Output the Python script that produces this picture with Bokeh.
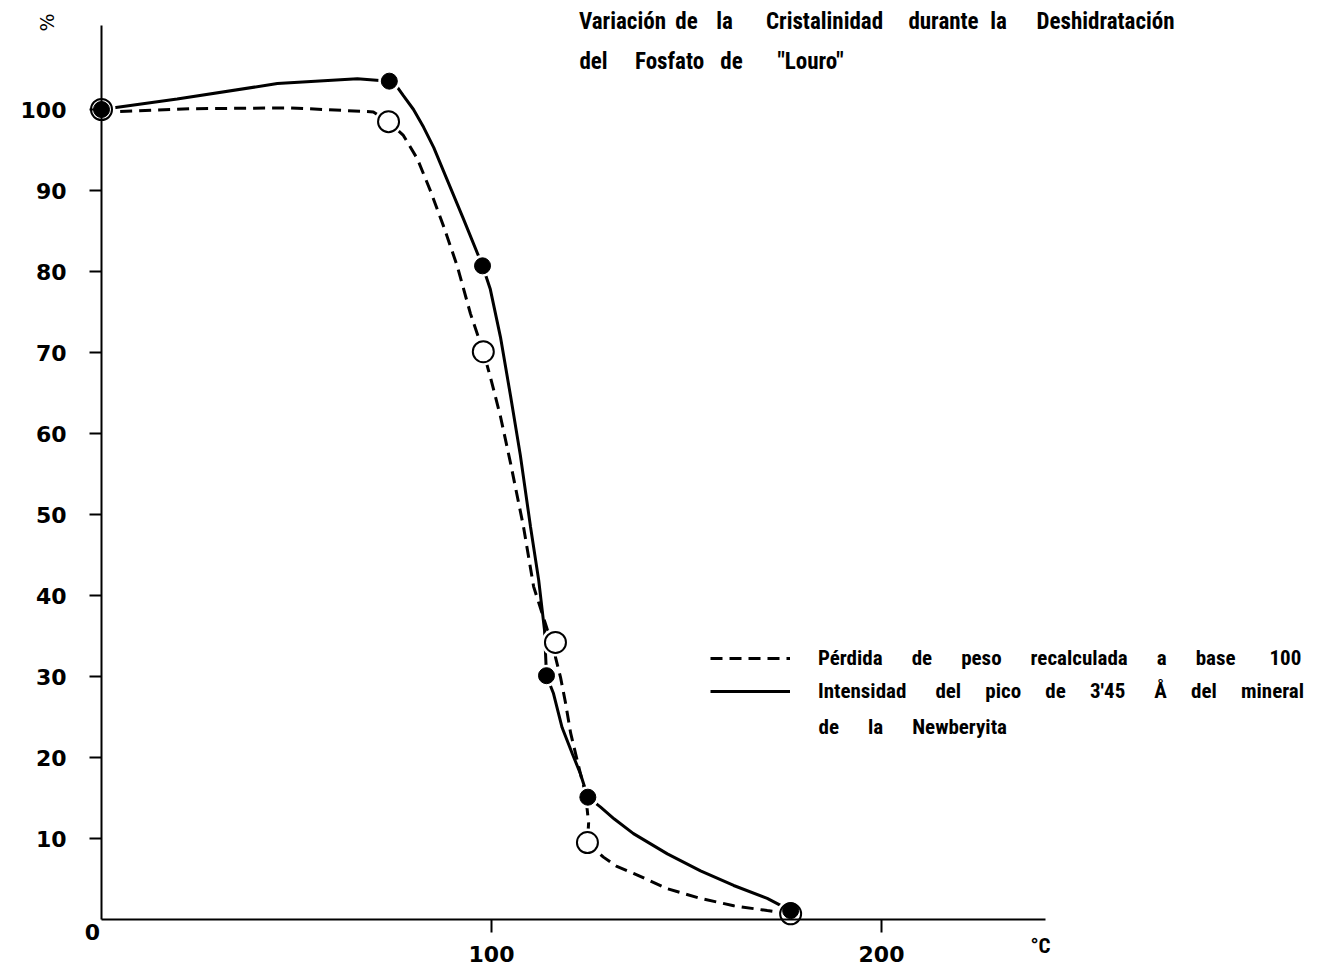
from bokeh.plotting import figure
from bokeh.models import Label, Legend, LegendItem, FixedTicker
from bokeh.embed import file_html
from bokeh.resources import INLINE

# ---------------- data ----------------
# measured points: Intensidad del pico de 3'45 A (filled) and Perdida de peso (open)
temp_intensidad = [0, 73.8, 97.7, 114.1, 124.7, 176.7]
intensidad = [100, 103.5, 80.7, 30.1, 15.1, 1.1]
temp_perdida = [0, 73.6, 97.9, 116.4, 124.6, 176.7]
perdida = [100, 98.5, 70.1, 34.2, 9.5, 0.7]

# hand-drawn curves
intensidad_curve_x = [0, 19.4, 45.1, 65.6, 73.8, 75.8, 77.4, 80.0, 82.6, 85.2, 87.7, 92.8, 97.7,
                      99.7, 102.3, 104.9, 107.4, 110.0, 112.1, 113.6, 114.1, 115.9, 118.1, 120.7,
                      122.8, 124.7, 127.9, 131.5, 136.4, 145.1, 153.6, 162.1, 170.7, 176.7]
intensidad_curve_y = [100.0, 101.3, 103.2, 103.8, 103.5, 102.8, 101.7, 100.0, 97.8, 95.3, 92.4,
                      86.5, 80.7, 77.8, 71.9, 64.6, 57.3, 48.5, 41.9, 35.7, 30.1, 27.9, 23.7,
                      20.5, 18.0, 15.1, 13.9, 12.4, 10.6, 8.1, 6.0, 4.2, 2.6, 1.1]
perdida_curve_x = [0, 2.3, 22.8, 48.5, 69.7, 73.6, 77.4, 81.0, 84.4, 87.7, 91.2, 94.6, 97.9,
                   99.7, 102.3, 104.9, 108.2, 110.8, 114.3, 116.4, 116.4, 117.7, 119.0, 120.3,
                   122.8, 124.1, 124.9, 124.6, 128.7, 132.0, 136.4, 145.1, 153.6, 162.1, 170.7,
                   176.7]
perdida_curve_y = [100.0, 99.7, 100.1, 100.2, 99.7, 98.5, 96.8, 93.9, 89.9, 85.6, 80.7, 74.8, 70.1,
                   67.0, 62.1, 56.3, 48.5, 41.1, 35.8, 34.2, 32.4, 29.9, 26.7, 23.0,
                   18.0, 15.6, 11.9, 9.5, 7.7, 6.6, 5.7, 3.8, 2.6, 1.7, 1.1, 0.7]

y_ticks = [10, 20, 30, 40, 50, 60, 70, 80, 90, 100]
x_ticks = [100, 200]

title_line1 = ["Variación", "de", "la", "Cristalinidad", "durante", "la", "Deshidratación"]
title_line2 = ["del", "Fosfato", "de", '"Louro"']
legend_words1 = ["Pérdida", "de", "peso", "recalculada", "a", "base", "100"]
legend_words2 = ["Intensidad", "del", "pico", "de", "3'45", "Å", "del", "mineral"]
legend_extra = ["de", "la", "Newberyita"]

# ---------------- layout ----------------
W, H = 1326, 966
SX, SY = 3.9, 8.1            # pixels per data unit
OX, OY = 101, 919            # pixel position of the data origin
x0, x1 = -OX / SX, (W - OX) / SX
y0, y1 = -(H - OY) / SY, OY / SY

WIDE = "DejaVu Sans"
COND = "Roboto Condensed"
NB = "\u00a0"

# word centre positions of the two title lines (pixels)
title1_pos = [622, 686, 724, 824, 943, 998, 1105]
title2_pos = [593, 669, 731, 810]
# non-breaking spaces between legend words
gaps1 = [6, 6, 6, 6, 6, 7]
gaps2 = [6, 5, 5, 5, 6, 5, 5]
gaps3 = [6, 6]


def join(words, gaps):
    out = words[0]
    for w, g in zip(words[1:], gaps):
        out += NB * g + w
    return out


def px(xp):   # pixel -> data x
    return (xp - OX) / SX


def py(yp):   # pixel -> data y
    return (OY - yp) / SY


p = figure(width=W, height=H, output_backend="svg", toolbar_location=None, title=None,
           x_range=(x0, x1), y_range=(y0, y1),
           min_border_left=0, min_border_right=0, min_border_top=0, min_border_bottom=0,
           background_fill_color="white", border_fill_color="white")
p.outline_line_color = None
p.xgrid.visible = False
p.ygrid.visible = False

for ax in (p.xaxis, p.yaxis):
    ax.fixed_location = 0
    ax.axis_line_width = 2
    ax.axis_line_color = "black"
    ax.major_tick_line_width = 2
    ax.major_tick_line_color = "black"
    ax.major_tick_in = 0
    ax.minor_tick_line_color = None
    ax.major_label_text_font = WIDE
    ax.major_label_text_font_style = "bold"
    ax.major_label_text_font_size = "22px"
    ax.major_label_text_color = "black"

p.xaxis.bounds = (0, 242)
p.yaxis.bounds = (0, 110.4)
p.xaxis.ticker = FixedTicker(ticks=x_ticks)
p.yaxis.ticker = FixedTicker(ticks=y_ticks)
p.xaxis.major_tick_out = 13
p.xaxis.major_label_standoff = 13
p.yaxis.major_tick_out = 12
p.yaxis.major_label_standoff = 23

# curves
r_dash = p.line(perdida_curve_x, perdida_curve_y, line_color="black", line_width=3,
                line_dash="12 7")
r_solid = p.line(intensidad_curve_x, intensidad_curve_y, line_color="black", line_width=3)

# white halos so the curves stop short of the circles
p.scatter(temp_perdida, perdida, size=28, fill_color="white", line_color=None)
p.scatter(temp_intensidad, intensidad, size=22, fill_color="white", line_color=None)
# markers
p.scatter(temp_perdida, perdida, size=21, fill_color="white", line_color="black", line_width=2)
p.scatter(temp_intensidad, intensidad, size=16, fill_color="black", line_color="black")

# legend (location = bottom-left corner, pixels from the frame's bottom-left)
legend = Legend(items=[LegendItem(label=join(legend_words1, gaps1), renderers=[r_dash]),
                       LegendItem(label=join(legend_words2, gaps2), renderers=[r_solid])],
                location=(710, H - 706), orientation="vertical",
                glyph_width=80, glyph_height=30, label_height=30, label_standoff=28,
                spacing=3, padding=0, margin=0,
                border_line_color=None, background_fill_alpha=0,
                label_text_font=COND, label_text_font_size="21px",
                label_text_font_style="bold", label_text_color="black")
p.add_layout(legend)

p.add_layout(Label(x=px(818), y=py(726), text=join(legend_extra, gaps3),
                   text_font=COND, text_color="black",
                   text_font_size="21px", text_font_style="bold", text_baseline="middle"))

# title lines, word by word
for word, xp in zip(title_line1, title1_pos):
    p.add_layout(Label(x=px(xp), y=py(21), text=word, text_font=COND, text_color="black",
                       text_font_size="23px", text_font_style="bold", text_align="center",
                       text_baseline="middle"))
for word, xp in zip(title_line2, title2_pos):
    p.add_layout(Label(x=px(xp), y=py(61), text=word, text_font=COND, text_color="black",
                       text_font_size="23px", text_font_style="bold", text_align="center",
                       text_baseline="middle"))

# axis annotations
p.add_layout(Label(x=px(92), y=py(931), text="0", text_font=WIDE, text_font_size="22px",
                   text_color="black", text_font_style="bold", text_align="center",
                   text_baseline="middle"))
p.add_layout(Label(x=px(1040), y=py(945), text="°C", text_font=COND,
                   text_font_size="21px", text_color="black", text_font_style="bold",
                   text_align="center", text_baseline="middle"))
p.add_layout(Label(x=px(46), y=py(22), text="%", text_font=WIDE, text_font_size="19px",
                   text_color="black", angle=1.5708, text_align="center",
                   text_baseline="middle"))

open("out.html", "w").write(file_html(p, INLINE))
